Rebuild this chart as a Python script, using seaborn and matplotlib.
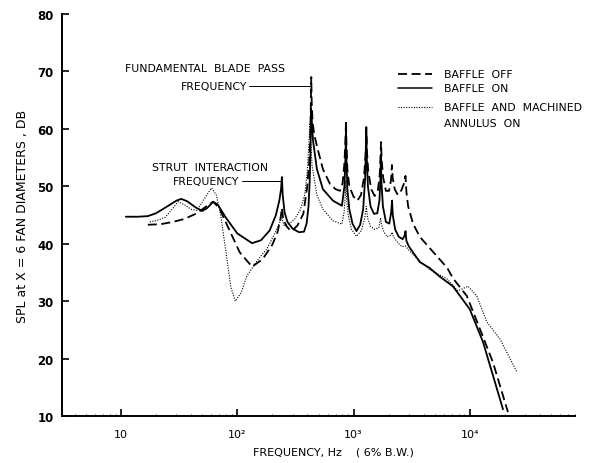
import numpy as np
import pandas as pd
import seaborn as sns
import matplotlib.pyplot as plt
from matplotlib.ticker import FixedLocator, NullFormatter, LogLocator

# baffle off (dashed)
off_freq = [17, 22, 28, 35, 45, 55, 62, 70, 85, 105, 134, 165, 200, 222, 236, 242, 248, 262, 280, 295,
            330, 370, 400, 415, 424, 430, 433, 437, 445, 460, 484, 545, 627, 700, 764, 805, 835, 852, 862,
            868, 885, 920, 1000, 1080, 1160, 1230, 1270, 1292, 1305, 1340, 1420, 1520, 1620, 1680, 1710,
            1725, 1745, 1800, 1900, 2020, 2100, 2140, 2170, 2260, 2400, 2580, 2720, 2800, 2850, 2950,
            3250, 3720, 4540, 5500, 6400, 7160, 9440, 12200, 15800, 21300]
off_db = [43.3, 43.4, 43.8, 44.3, 45.3, 46.6, 47.3, 46.2, 42.5, 38.5, 36.0, 37.3, 39.8, 42.0, 44.5, 46.2,
          44.5, 43.2, 42.5, 42.2, 43.2, 45.2, 50.0, 54.0, 58.0, 65.0, 69.0, 64.5, 61.0, 59.0, 57.0, 53.0,
          50.4, 49.5, 49.2, 50.5, 54.0, 58.0, 61.5, 58.0, 53.0, 50.0, 48.2, 47.5, 48.5, 51.5, 55.5, 59.0,
          56.0, 52.5, 49.5, 48.3, 49.3, 52.0, 55.5, 57.7, 54.5, 51.5, 49.2, 49.2, 51.0, 53.7, 51.5, 49.5,
          48.5, 49.3, 50.5, 51.8, 49.0, 46.5, 43.5, 41.2, 39.2, 37.3, 35.8, 34.0, 30.9, 25.2, 19.4, 10.7]

# baffle on (solid)
on_freq = [11, 14, 17, 20, 25, 30, 33, 37, 44, 50, 55, 62, 68, 80, 100, 134, 160, 190, 215, 230, 238,
           242, 246, 255, 270, 300, 340, 375, 395, 410, 420, 427, 431, 436, 448, 484, 545, 665, 795, 835,
           852, 860, 868, 885, 920, 980, 1060, 1140, 1210, 1260, 1288, 1300, 1330, 1400, 1500, 1600,
           1670, 1705, 1720, 1735, 1790, 1900, 2030, 2110, 2145, 2175, 2280, 2450, 2650, 2760, 2800,
           2850, 3000, 3250, 3720, 4500, 5500, 7160, 10000, 13000, 19300]
on_db = [44.7, 44.7, 44.8, 45.3, 46.5, 47.5, 47.8, 47.4, 46.3, 45.7, 46.2, 47.3, 46.8, 44.5, 41.8, 40.1,
         40.6, 42.3, 45.0, 47.5, 49.5, 51.6, 48.5, 45.5, 43.8, 42.6, 42.0, 42.1, 43.5, 46.5, 51.0, 57.0,
         63.5, 62.0, 58.0, 53.0, 49.5, 47.5, 46.6, 50.0, 55.0, 59.5, 55.0, 49.5, 46.0, 43.5, 42.2, 43.3,
         46.0, 51.5, 60.3, 55.0, 50.0, 46.5, 45.2, 45.3, 47.5, 51.5, 55.5, 51.0, 46.5, 43.8, 43.5, 45.5,
         47.5, 45.0, 42.5, 41.2, 40.8, 41.5, 42.2, 40.5, 39.5, 38.5, 36.8, 35.8, 34.3, 32.6, 28.6, 22.9,
         11.2]

# baffle and machined annulus on (dotted)
ann_freq = [17.7, 20, 24, 28, 31, 35, 40, 45, 52, 60, 66, 72, 80, 88, 96, 108, 121, 150, 180, 215, 235,
            242, 252, 280, 310, 350, 380, 400, 412, 422, 428, 440, 484, 545, 665, 795, 830, 850, 858,
            870, 900, 960, 1060, 1170, 1250, 1290, 1320, 1400, 1520, 1650, 1710, 1740, 1830, 1950, 2100,
            2150, 2200, 2400, 2600, 2800, 3100, 3720, 4500, 6350, 7900, 9650, 11500, 14000, 18200, 25400]
ann_db = [43.8, 44.0, 44.6, 46.2, 47.3, 46.8, 46.0, 45.8, 47.8, 49.7, 48.5, 45.0, 38.5, 32.5, 30.0, 31.5,
          34.4, 37.2, 39.1, 42.2, 44.0, 44.5, 43.2, 43.5, 44.2, 46.0, 48.5, 52.5, 57.0, 61.0, 58.0, 53.5,
          48.5, 46.0, 44.0, 43.4, 45.5, 48.5, 51.0, 48.0, 45.0, 42.5, 41.3, 42.3, 44.5, 46.5, 44.5, 43.0,
          42.5, 42.8, 44.5, 43.3, 42.0, 41.2, 41.5, 42.0, 41.2, 40.2, 39.5, 39.6, 38.5, 37.0, 35.5, 33.9,
          31.8, 32.6, 30.9, 26.4, 23.4, 17.7]

y_ticks = [10, 20, 30, 40, 50, 60, 70, 80]
x_ticks = [10, 100, 1000, 10000]
x_labels = ["10", "10²", "10³", "10⁴"]

sns.set_style("ticks")
plt.rcParams['font.family'] = ['DejaVu Sans']
plt.rcParams.update({"text.color": "black", "axes.labelcolor": "black",
                     "xtick.color": "black", "ytick.color": "black"})

fig = plt.figure(figsize=(5.95, 4.64), dpi=100)
ax = fig.add_axes([0.104, 0.101, 0.862, 0.867])

sns.lineplot(x=off_freq, y=off_db, ax=ax, color="black", lw=1.3)
ax.lines[-1].set_dashes((5, 2.5))
sns.lineplot(x=on_freq, y=on_db, ax=ax, color="black", lw=1.3)
sns.lineplot(x=ann_freq, y=ann_db, ax=ax, color="black", lw=0.8)
ax.lines[-1].set_linestyle((0, (1, 1.3)))

ax.set_xscale("log")
ax.set_xlim(3.1, 80000)
ax.set_ylim(10, 80)
sns.despine(ax=ax)
for s in ["left", "bottom"]:
    ax.spines[s].set_linewidth(1.4)
    ax.spines[s].set_color("black")

ax.xaxis.set_major_locator(FixedLocator(x_ticks))
ax.set_xticklabels(x_labels, fontsize=8)
ax.xaxis.set_minor_locator(LogLocator(base=10, subs=np.arange(2, 10)))
ax.xaxis.set_minor_formatter(NullFormatter())
ax.set_yticks(y_ticks)
ax.set_yticklabels([str(v) for v in y_ticks], fontsize=8.5, fontweight="bold")
ax.tick_params(axis="both", which="major", direction="in", length=5, width=1.2,
               bottom=True, left=True, pad=6)
ax.tick_params(axis="x", which="minor", direction="in", length=1.5, width=0.6, bottom=True)
ax.tick_params(axis="x", which="major", pad=9)

ax.set_ylabel("SPL at X = 6 FAN DIAMETERS , DB", fontsize=9, labelpad=6)
ax.set_xlabel("FREQUENCY, Hz    ( 6% B.W.)", fontsize=8)
ax.xaxis.set_label_coords(0.53, -0.075)

# annotations
ax.text(52.7, 70.6, "FUNDAMENTAL  BLADE  PASS", fontsize=7.8, ha="center", va="center")
ax.text(121, 67.5, "FREQUENCY", fontsize=7.8, ha="right", va="center")
ax.plot([125, 428], [67.5, 67.5], color="black", lw=0.7)
ax.text(58.2, 53.4, "STRUT  INTERACTION", fontsize=7.8, ha="center", va="center")
ax.text(105, 50.9, "FREQUENCY", fontsize=7.8, ha="right", va="center")
ax.plot([109, 242], [50.9, 50.9], color="black", lw=0.7)

# legend drawn as a key in axes coordinates
tr = ax.transAxes
ax.plot([0.655, 0.721], [0.851, 0.851], transform=tr, color="black", lw=1.3, dashes=(5, 2.5))
ax.plot([0.655, 0.721], [0.816, 0.816], transform=tr, color="black", lw=1.1)
ax.plot([0.655, 0.721], [0.769, 0.769], transform=tr, color="black", lw=0.8, linestyle=(0, (1, 1.3)))
ax.text(0.745, 0.851, "BAFFLE  OFF", transform=tr, fontsize=7.8, va="center")
ax.text(0.745, 0.816, "BAFFLE  ON", transform=tr, fontsize=7.8, va="center")
ax.text(0.745, 0.769, "BAFFLE  AND  MACHINED", transform=tr, fontsize=7.8, va="center")
ax.text(0.745, 0.729, "ANNULUS  ON", transform=tr, fontsize=7.8, va="center")

fig.savefig("out.png", dpi=100)
